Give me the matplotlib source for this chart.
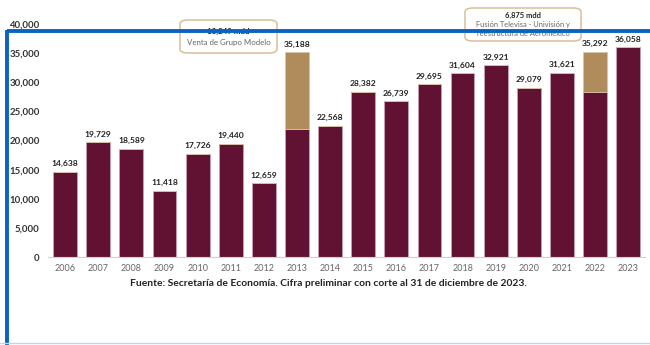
import matplotlib
matplotlib.use("Agg")
import matplotlib.pyplot as plt
from matplotlib.lines import Line2D
from matplotlib.patches import FancyBboxPatch

plt.rcParams['font.family'] = ['Lato', 'DejaVu Sans']

years = ['2006', '2007', '2008', '2009', '2010', '2011', '2012', '2013', '2014',
         '2015', '2016', '2017', '2018', '2019', '2020', '2021', '2022', '2023']
totals = [14638, 19729, 18589, 11418, 17726, 19440, 12659, 35188, 22568,
          28382, 26739, 29695, 31604, 32921, 29079, 31621, 35292, 36058]
# extraordinary operations (mdd) inside the yearly total
extra = [0, 0, 0, 0, 0, 0, 0, 13249, 0, 0, 0, 0, 0, 0, 0, 0, 6875, 0]
base = [t - e for t, e in zip(totals, extra)]
yticks = [0, 5000, 10000, 15000, 20000, 25000, 30000, 35000, 40000]

maroon = '#611232'
tan = '#b08b5b'

fig = plt.figure(figsize=(6.5, 3.45), dpi=100)
ax = fig.add_axes([0.0738, 0.255, 0.918, 0.675])

x = range(len(years))
ax.bar(x, base, width=0.72, color=maroon, edgecolor='#c8a2b4', linewidth=0.6, zorder=2)
ax.bar(x, extra, bottom=base, width=0.72, color=tan, edgecolor='#d9c4a6',
       linewidth=0.6, zorder=2)

for i, t in enumerate(totals):
    ax.text(i, t + 1380, f'{t:,}', ha='center', va='center', fontsize=6.1,
            fontweight='bold', color='#222222')

ax.set_xlim(-0.52, 17.5)
ax.set_ylim(0, 40000)
ax.set_xticks(list(x))
ax.set_xticklabels(years, fontsize=6.5, color='#666666')
ax.set_yticks(yticks)
ax.set_yticklabels([f'{v:,}' for v in yticks], fontsize=6.9, fontweight='bold',
                   color='#333333')
ax.tick_params(axis='both', length=0, pad=5)
ax.tick_params(axis='y', pad=6)
for s in ['top', 'right', 'left']:
    ax.spines[s].set_visible(False)
ax.spines['bottom'].set_color('#d0d0d0')
ax.spines['bottom'].set_linewidth(0.8)

# annotation boxes
def note(x0, y0, x1, y1, lines, ys, size):
    box = FancyBboxPatch((x0 / 650, 1 - y1 / 345), (x1 - x0) / 650, (y1 - y0) / 345,
                         boxstyle='round,pad=0,rounding_size=0.012',
                         transform=fig.transFigure, facecolor='white',
                         edgecolor='#d8bf98', linewidth=1.1, zorder=5)
    fig.add_artist(box)
    cx = (x0 + x1) / 2 / 650
    for (txt, bold), yy in zip(lines, ys):
        fig.text(cx, 1 - yy / 345, txt, ha='center', va='center', fontsize=size,
                 fontweight='bold' if bold else 'normal',
                 color='#222222' if bold else '#666666', zorder=6)

note(180, 20, 277, 53,
     [('13,249 mdd', True), ('Venta de Grupo Modelo', False)], [31.5, 42], 5.7)
note(465, 8, 581, 41,
     [('6,875 mdd', True), ('Fusión Televisa - Univisión y', False),
      ('reestructura de Aeroméxico', False)], [15.5, 25, 33.5], 5.4)

fig.text(328 / 650, 1 - 284 / 345,
         'Fuente: Secretaría de Economía. Cifra preliminar con corte al 31 de diciembre de 2023.',
         ha='center', va='center', fontsize=7.4, fontweight='bold', color='#222222')

# frame lines
blue = '#0b63c1'
fig.add_artist(Line2D([7 / 650, 1.0], [1 - 31.3 / 345, 1 - 31.3 / 345],
                      transform=fig.transFigure, color=blue, linewidth=2.8, zorder=10,
                      solid_capstyle='butt'))
fig.add_artist(Line2D([7 / 650, 7 / 650], [0, 1 - 29.5 / 345],
                      transform=fig.transFigure, color=blue, linewidth=2.8, zorder=10,
                      solid_capstyle='butt'))
fig.add_artist(Line2D([0, 1], [1 - 343 / 345, 1 - 343 / 345],
                      transform=fig.transFigure, color='#bcd7f0', linewidth=1.0, zorder=10))

fig.savefig('out.png', dpi=100)
